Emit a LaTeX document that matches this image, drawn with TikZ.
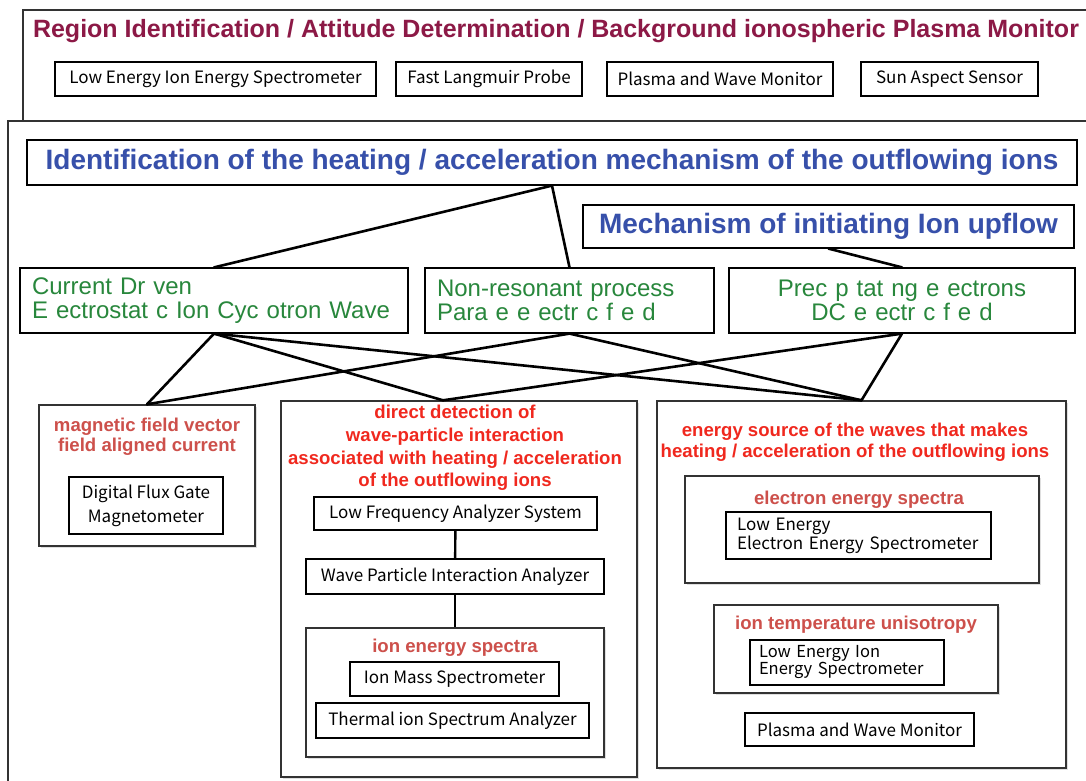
\documentclass[tikz,border=0pt]{standalone}
\usepackage{fontspec}
\setmainfont{Liberation Sans}
\newfontfamily\jpfont{Noto Sans CJK JP}
\usepackage{tikz}
\usepackage{xcolor}
\usetikzlibrary{shadows}

\begin{document}
\begin{tikzpicture}[x=1pt, y=-1pt,
  frame/.style={draw=black!80, line width=1.3pt},
  box/.style={draw=black, line width=1.2pt, inner sep=0pt, fill=white, align=center,
    font=\jpfont\fontsize{17}{24}\selectfont},
  group/.style={draw=black!80, line width=1.4pt, inner sep=0pt, fill=white,
    drop shadow={shadow xshift=1.5pt, shadow yshift=-1.5pt, opacity=0.25}},
  goalbox/.style={draw=black, line width=1.2pt, inner sep=0pt, fill=white, text=goalblue,
    font=\bfseries\fontsize{28}{32}\selectfont},
  procbox/.style={draw=black, line width=1.2pt, inner xsep=12pt, inner ysep=0pt, fill=white,
    text=procgreen, align=left, font=\fontsize{24}{24}\selectfont},
  aim/.style={text=aimred, align=center, font=\bfseries\fontsize{18.6}{22}\selectfont},
  subaim/.style={text=subred, align=center, font=\bfseries\fontsize{18.6}{20}\selectfont},
  link/.style={line width=2.6pt, line cap=round}
]
% Define colors
\definecolor{regionred}{RGB}{140,25,70}
\definecolor{goalblue}{RGB}{55,80,170}
\definecolor{procgreen}{RGB}{40,135,60}
\definecolor{aimred}{RGB}{240,40,30}
\definecolor{subred}{RGB}{205,80,75}

% Set background
\clip (0,0) rectangle (1086,780);
\fill[white] (0,0) rectangle (1086,780);

% Region / attitude panel
\draw[frame] (23,121) -- (23,10) -- (1100,10);
\node[text=regionred, font=\bfseries\fontsize{25}{28}\selectfont] (regiontitle) at (556,31)
  {Region Identification / Attitude Determination / Background ionospheric Plasma Monitor};
\node[box, minimum width=321pt, minimum height=34pt] (leies) at (215.5,79) {Low Energy Ion Energy Spectrometer};
\node[box, minimum width=186pt, minimum height=34pt] (flp) at (489,79) {Fast Langmuir Probe};
\node[box, minimum width=226pt, minimum height=34pt] (pwmtop) at (720,79) {Plasma and Wave Monitor};
\node[box, minimum width=177pt, minimum height=34pt] (sas) at (949.5,79) {Sun Aspect Sensor};

% Heating / acceleration panel
\draw[frame] (1100,121) -- (8,121) -- (8,800);
\node[goalbox, minimum width=1050pt, minimum height=45pt] (goal) at (552,162.5)
  {Identification of the heating / acceleration mechanism of the outflowing ions};
\node[goalbox, minimum width=491pt, minimum height=43pt] (upflow) at (828.5,226.5)
  {Mechanism of initiating Ion upflow};

% Candidate processes
\node[procbox, text width=364pt, minimum height=65pt] (cdeic) at (214,300.5)
  {Current Dr ven\\E ectrostat c Ion Cyc otron Wave};
\node[procbox, text width=265pt, minimum height=65pt] (nonres) at (569.5,300.5)
  {Non-resonant process\\Para e e ectr c f e d};
\node[procbox, text width=322pt, minimum height=65pt, align=center] (precip) at (902,300.5)
  {Prec p tat ng e ectrons\\DC e ectr c f e d};

% Observation groups
\node[group, minimum width=216pt, minimum height=141pt] (magbox) at (147,475.5) {};
\node[group, minimum width=356pt, minimum height=376pt] (ddbox) at (459,589) {};
\node[group, minimum width=409pt, minimum height=367pt] (esbox) at (861.5,584.5) {};

% Links between goals, processes and groups
\draw[link] (goal.south) -- (cdeic.north);
\draw[link] (goal.south) -- (nonres.north);
\draw[link] (upflow.south) -- (precip.north);
\draw[link] (cdeic.south) -- (magbox.north);
\draw[link] (cdeic.south) -- ([xshift=-16pt]ddbox.north);
\draw[link] (cdeic.south) -- (esbox.north);
\draw[link] (nonres.south) -- (magbox.north);
\draw[link] (nonres.south) -- (esbox.north);
\draw[link] (precip.south) -- ([xshift=-16pt]ddbox.north);
\draw[link] (precip.south) -- (esbox.north);

% Magnetic field group
\node[subaim] (maglabel) at (147,437) {magnetic field vector\\field aligned current};
\node[box, minimum width=154pt, minimum height=57pt] (dfgm) at (146,505.5) {Digital Flux Gate\\Magnetometer};

% Direct detection group
\node[aim, font=\bfseries\fontsize{18.6}{22.7}\selectfont] (ddlabel) at (455,448)
  {direct detection of\\wave-particle interaction\\associated with heating / acceleration\\of the outflowing ions};
\node[box, minimum width=283pt, minimum height=33pt] (lfas) at (455.5,513.5) {Low Frequency Analyzer System};
\node[box, minimum width=298pt, minimum height=35pt] (wpia) at (455,576.5) {Wave Particle Interaction Analyzer};
\node[group, minimum width=298pt, minimum height=129pt] (iesbox) at (455,692.5) {};
\draw[line width=2.4pt] (lfas) -- (wpia);
\draw[line width=2.4pt] (wpia) -- (iesbox);
\node[subaim] (ieslabel) at (455,648) {ion energy spectra};
\node[box, minimum width=209pt, minimum height=34pt] (ims) at (454.5,679) {Ion Mass Spectrometer};
\node[box, minimum width=273pt, minimum height=35pt] (tisa) at (452.5,720.5) {Thermal ion Spectrum Analyzer};

% Energy source group
\node[aim, font=\bfseries\fontsize{18.6}{21}\selectfont] (eslabel) at (855,442.5)
  {energy source of the waves that makes\\heating / acceleration of the outflowing ions};
\node[group, minimum width=354pt, minimum height=107pt] (eesbox) at (862,529.5) {};
\node[subaim] (eeslabel) at (859,500) {electron energy spectra};
\node[box, align=left, inner xsep=11pt, text width=243pt, minimum height=47pt,
  font=\jpfont\fontsize{17}{17}\selectfont] (leees) at (858.5,535.5) {Low Energy\\Electron Energy Spectrometer};
\node[group, minimum width=284pt, minimum height=88pt] (itubox) at (856,649) {};
\node[subaim] (itulabel) at (856,625) {ion temperature unisotropy};
\node[box, align=left, inner xsep=9pt, text width=176pt, minimum height=45pt,
  font=\jpfont\fontsize{16.5}{17}\selectfont] (leiesb) at (847,662.5) {Low Energy Ion\\Energy Spectrometer};
\node[box, minimum width=229pt, minimum height=33pt] (pwmlow) at (859.5,729.5) {Plasma and Wave Monitor};

\end{tikzpicture}
\end{document}
